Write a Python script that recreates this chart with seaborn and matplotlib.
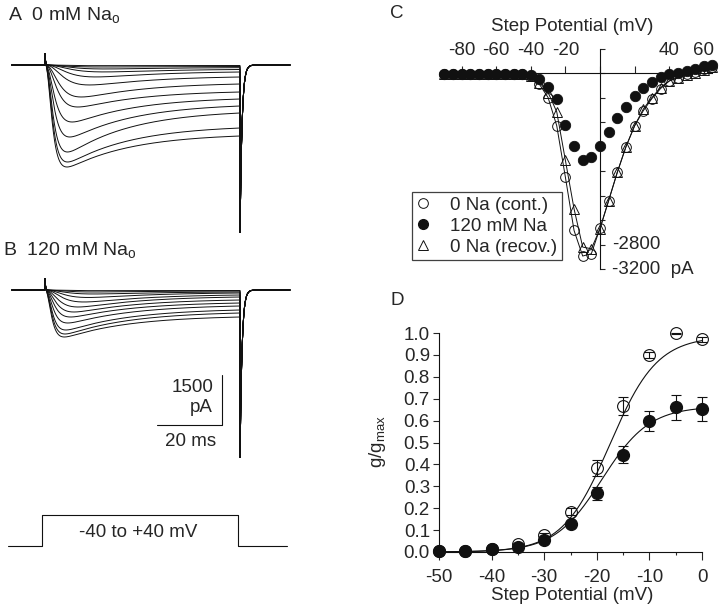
import numpy as np
import pandas as pd
import matplotlib
matplotlib.use("Agg")
import matplotlib.pyplot as plt
import seaborn as sns
from matplotlib.lines import Line2D
from matplotlib.ticker import MultipleLocator

sns.set_style("ticks")
plt.rcParams["font.family"] = ["Liberation Sans", "DejaVu Sans"]
plt.rcParams["mathtext.fontset"] = "custom"
plt.rcParams["mathtext.rm"] = "Liberation Sans"
plt.rcParams["font.size"] = 13

W, H = 720, 614
INK = "#111111"

# A / B: one entry per sweep (-40 to +40 mV), peak and end-of-step current in pA
a_peak = [3060, 2910, 2610, 2160, 1710, 1260, 960, 600, 360, 210, 120, 60, 20]
a_end = [2130, 1890, 1440, 1230, 1020, 810, 570, 360, 210, 135, 80, 45, 15]
a_tau = [1.4, 1.5, 1.6, 1.8, 2.0, 2.5, 3.0, 4.0, 5.0, 6.0, 6.0, 5.0, 4.0]
b_peak = [1410, 1320, 1200, 990, 810, 660, 510, 360, 225, 120, 60, 20]
b_end = [810, 690, 600, 480, 390, 300, 210, 150, 90, 60, 30, 15]
b_tau = [1.3, 1.4, 1.5, 1.7, 2.0, 2.4, 3.0, 3.8, 4.5, 5.0, 5.0, 4.0]
step_ms = 60.0
tail_pa = 5190
spike_pa = 390

# voltage protocol (ms, relative level)
vp_t = [-11.4, -0.9, -0.9, 59.4, 59.4, 74.5]
vp_lvl = [0, 0, 1, 1, 0, 0]

# C: I-V relation
c_v = [-90, -85, -80, -75, -70, -65, -60, -55, -50, -45, -40, -35, -30, -25, -20, -15,
       -10, -5, 0, 5, 10, 15, 20, 25, 30, 35, 40, 45, 50, 55, 60, 65]
c_cont = [-10, -10, -10, -10, -10, -10, -10, -10, -10, -10, -50, -179, -396, -856, -1696, -2564,
          -2981, -2943, -2526, -2076, -1615, -1198, -856, -612, -412, -249, -125, -70, -16, 22, 65, 110]
c_na = [-15, -15, -15, -15, -15, -15, -15, -15, -15, -15, -30, -98, -217, -423, -846, -1182,
        -1409, -1371, -1182, -965, -737, -547, -369, -233, -141, -54, -16, 11, 38, 65, 119, 135]
c_recov = [-10, -10, -10, -10, -10, -10, -10, -10, -10, -10, -40, -152, -314, -629, -1420, -2211,
           -2835, -2862, -2537, -2076, -1615, -1198, -856, -585, -396, -233, -125, -70, -33, 10, 55, 100]

# D: normalised conductance
d_v = [-50, -45, -40, -35, -30, -25, -20, -15, -10, -5, 0]
d_open = [0.005, 0.005, 0.012, 0.035, 0.078, 0.184, 0.383, 0.667, 0.90, 0.998, 0.972]
d_open_err = [0, 0, 0.004, 0.006, 0.01, 0.015, 0.036, 0.04, 0.013, 0.003, 0.012]
d_fill = [0.004, 0.004, 0.012, 0.024, 0.055, 0.128, 0.268, 0.445, 0.598, 0.661, 0.653]
d_fill_err = [0, 0, 0.004, 0.005, 0.008, 0.012, 0.03, 0.037, 0.047, 0.056, 0.057]
fit_open = dict(gmax=0.985, vh=-17.5, k=4.5)
fit_fill = dict(gmax=0.665, vh=-19.0, k=4.5)


def sweeps(peaks, ends, taus):
    t = np.arange(-10.2, 75.4, 0.02)
    rows = []
    inside = (t > 0) & (t < step_ms)
    tp = np.clip(t, 0, None)
    for i, (pk, en, ta) in enumerate(zip(peaks, ends, taus)):
        act = (1 - np.exp(-tp / ta)) ** 3
        decay = (np.exp(-tp / 20.0) - np.exp(-step_ms / 20.0)) / (1 - np.exp(-step_ms / 20.0))
        amp = pk
        for _ in range(10):
            cur = act * (en + (amp - en) * decay)
            amp += pk - cur[inside].max()
        cur = np.where(inside, -cur, 0.0)
        cur += np.where(t >= 0, spike_pa * np.exp(-tp / 0.15), 0)
        after = t >= step_ms
        cur[after] = -tail_pa * np.exp(-(t[after] - step_ms) / 0.6)
        rows.append(pd.DataFrame({"t": t, "I": cur, "sweep": i}))
    return pd.concat(rows, ignore_index=True)


def fx(x):
    return x / W


def fy(y):
    return 1 - y / H


fig = plt.figure(figsize=(7.2, 6.14), dpi=100)

# ---- A
axa = fig.add_axes([0, fy(245), fx(360), (245 - 30) / H])
sns.lineplot(data=sweeps(a_peak, a_end, a_tau), x="t", y="I", units="sweep", estimator=None,
             color=INK, lw=0.7, ax=axa, legend=False)
axa.set_xlim(-45 / 3.25, 315 / 3.25)
axa.set_ylim(-(245 - 65) * 30, (65 - 30) * 30)
axa.axis("off")

# ---- B
axb = fig.add_axes([0, fy(470), fx(360), (470 - 265) / H])
sns.lineplot(data=sweeps(b_peak, b_end, b_tau), x="t", y="I", units="sweep", estimator=None,
             color=INK, lw=0.7, ax=axb, legend=False)
axb.set_xlim(-45 / 3.25, 315 / 3.25)
axb.set_ylim(-(470 - 290) * 30, (290 - 265) * 30)
axb.axis("off")
# scale bar 1500 pA / 20 ms
axb.plot([54.5, 54.5, 34.5], [-2550, -4050, -4050], color=INK, lw=0.8)
axb.text(51.7, -2910, "1500", ha="right", va="center", fontsize=13.5)
axb.text(51.7, -3540, "pA", ha="right", va="center", fontsize=13.5)
axb.text(44.9, -4530, "20 ms", ha="center", va="center", fontsize=13.5)

# ---- voltage protocol
axv = fig.add_axes([0, fy(560), fx(360), 60 / H])
axv.plot(vp_t, vp_lvl, color=INK, lw=0.8)
axv.set_xlim(-45 / 3.25, 315 / 3.25)
axv.set_ylim(-14 / 31, 46 / 31)
axv.axis("off")
axv.text(28.6, 0.42, "-40 to +40 mV", ha="center", va="center", fontsize=13.5)

fig.text(fx(8), fy(21), r"A  0 mM Na$_\mathrm{o}$", ha="left", va="baseline", fontsize=14)
fig.text(fx(3), fy(256), r"B  120 mM Na$_\mathrm{o}$", ha="left", va="baseline", fontsize=14)

# ---- C
axc = fig.add_axes([fx(425), fy(280), 295 / W, 240 / H])
axc.patch.set_visible(False)
axc.set_xlim((425 - 600) / 1.73, (720 - 600) / 1.73)
axc.set_ylim(-(280 - 73.3) / 0.0613, (73.3 - 40) / 0.0613)
axc.spines["bottom"].set_visible(False)
axc.spines["right"].set_visible(False)
axc.spines["top"].set_position(("data", 0))
axc.spines["left"].set_position(("data", 0))
axc.spines["top"].set_bounds(-90, 65)
axc.spines["left"].set_bounds(-3200, 400)
for s in ("top", "left"):
    axc.spines[s].set_linewidth(0.8)
    axc.spines[s].set_color(INK)
axc.xaxis.set_ticks_position("top")
axc.set_xticks([-80, -60, -40, -20, 0, 20, 40, 60])
axc.set_xticklabels(["-80", "-60", "-40", "-20", "", "", "40", "60"])
axc.tick_params(axis="x", direction="out", length=5, width=0.8, pad=5, labelsize=13.5)
axc.set_yticks([400, 0, -400, -800, -1200, -1600, -2000, -2400, -2800, -3200])
axc.tick_params(axis="y", direction="in", length=3.5, width=0.8, labelleft=False)
axc.plot(c_v, c_cont, color=INK, lw=0.7, marker="o", ms=7, mfc="none", mec=INK, mew=0.7,
         clip_on=False, zorder=3)
axc.plot(c_v, c_recov, color=INK, lw=0.7, marker="^", ms=7, mfc="none", mec=INK, mew=0.7,
         clip_on=False, zorder=3)
sns.scatterplot(x=c_v, y=c_na, color=INK, s=56, edgecolor=INK, ax=axc, zorder=4, clip_on=False)
axc.text(7, -2800, "-2800", ha="left", va="center", fontsize=13.5)
axc.text(7, -3200, "-3200  pA", ha="left", va="center", fontsize=13.5)
fig.text(fx(572), fy(31), "Step Potential (mV)", ha="center", va="baseline", fontsize=13.5)
fig.text(fx(390), fy(18), "C", ha="left", va="baseline", fontsize=13.5)
handles = [
    Line2D([], [], ls="none", marker="o", ms=7, mfc="none", mec=INK, mew=0.7),
    Line2D([], [], ls="none", marker="o", ms=7, mfc=INK, mec=INK),
    Line2D([], [], ls="none", marker="^", ms=7, mfc="none", mec=INK, mew=0.7),
]
leg = fig.legend(handles, ["0 Na (cont.)", "120 mM Na", "0 Na (recov.)"], loc="upper left",
                 bbox_to_anchor=(fx(412), fy(192)), bbox_transform=fig.transFigure,
                 frameon=True, fancybox=False, borderaxespad=0, borderpad=0.25,
                 handlelength=0.7, handletextpad=1.1, labelspacing=0.2, fontsize=13.5)
leg.get_frame().set_edgecolor(INK)
leg.get_frame().set_linewidth(0.9)

# ---- D
axd = fig.add_axes([fx(439), fy(552), 263 / W, 219 / H])
axd.patch.set_visible(False)
axd.set_xlim(-50, 0)
axd.set_ylim(0, 1)
sns.despine(ax=axd)
axd.spines["left"].set_bounds(0, 1)
for s in ("left", "bottom"):
    axd.spines[s].set_linewidth(0.8)
    axd.spines[s].set_color(INK)
axd.set_xticks([-50, -40, -30, -20, -10, 0])
axd.set_xticklabels(["-50", "-40", "-30", "-20", "-10", "0"])
axd.xaxis.set_minor_locator(MultipleLocator(5))
axd.tick_params(axis="x", which="major", direction="out", length=5.5, width=0.8, pad=7, labelsize=13.5)
axd.tick_params(axis="x", which="minor", direction="out", length=2, width=0.8)
yt = [0.0, 0.1, 0.2, 0.3, 0.4, 0.5, 0.6, 0.7, 0.8, 0.9, 1.0]
axd.set_yticks(yt)
axd.set_yticklabels([f"{v:.1f}" for v in yt])
axd.tick_params(axis="y", direction="out", length=4.5, width=0.8, pad=2, labelsize=13.5)

vfit = np.linspace(-50, 0, 300)
for p in (fit_open, fit_fill):
    g = p["gmax"] / (1 + np.exp((p["vh"] - vfit) / p["k"]))
    sns.lineplot(x=vfit, y=g, color=INK, lw=0.8, ax=axd)

axd.errorbar(d_v, d_open, yerr=d_open_err, fmt="o", ms=8.5, mfc="none", mec=INK, mew=0.8,
             ecolor=INK, elinewidth=0.8, capsize=3.5, capthick=0.8, clip_on=False, zorder=3)
axd.errorbar(d_v, d_fill, yerr=d_fill_err, fmt="o", ms=8.5, mfc=INK, mec=INK,
             ecolor=INK, elinewidth=0.8, capsize=3.5, capthick=0.8, clip_on=False, zorder=4)
axd.set_xlabel("")
axd.set_ylabel("")
fig.text(fx(572), fy(595), "Step Potential (mV)", ha="center", va="center", fontsize=13.5)
fig.text(fx(378), fy(442), r"g/g$_\mathrm{max}$", ha="center", va="center", rotation=90, fontsize=13.5)
fig.text(fx(390), fy(305), "D", ha="left", va="baseline", fontsize=13.5)

fig.savefig("out.png", dpi=100)
